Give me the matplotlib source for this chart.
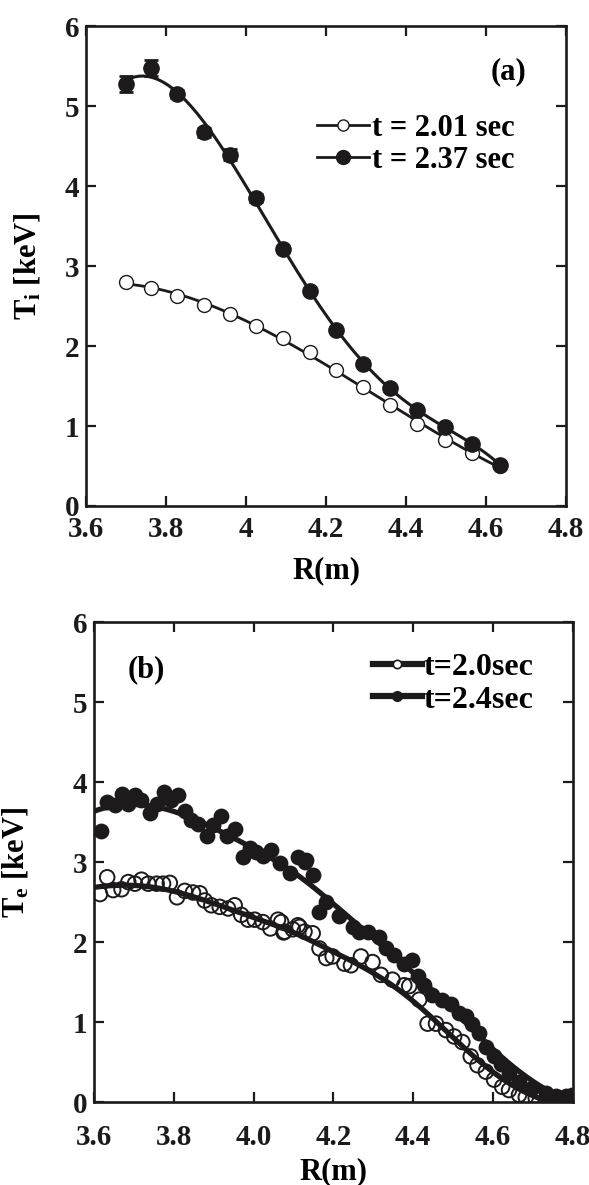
import numpy as np
import matplotlib
matplotlib.use('Agg')
import matplotlib.pyplot as plt

# ---- panel (a): ion temperature ----
r_a = [3.700, 3.763, 3.828, 3.894, 3.959, 4.025, 4.092, 4.160, 4.226,
       4.293, 4.360, 4.428, 4.497, 4.566, 4.635]
ti_201 = [2.80, 2.73, 2.63, 2.51, 2.40, 2.25, 2.10, 1.92, 1.70,
          1.49, 1.26, 1.03, 0.83, 0.66, 0.50]
ti_201_err = [0.04, 0.03, 0.03, 0.03, 0.03, 0.03, 0.03, 0.03, 0.03,
              0.03, 0.03, 0.03, 0.03, 0.03, 0.03]
ti_237 = [5.28, 5.47, 5.15, 4.67, 4.39, 3.85, 3.21, 2.69, 2.20,
          1.78, 1.47, 1.20, 0.99, 0.78, 0.51]
ti_237_err = [0.10, 0.10, 0.05, 0.06, 0.07, 0.05, 0.04, 0.03, 0.03,
              0.03, 0.03, 0.03, 0.03, 0.03, 0.03]

# ---- panel (b): electron temperature ----
r_b_20 = [3.615, 3.633, 3.648, 3.669, 3.686, 3.7025, 3.719, 3.736, 3.757, 3.773,
          3.790, 3.808, 3.8275, 3.848, 3.865, 3.8775, 3.894, 3.915, 3.936, 3.9525,
          3.969, 3.986, 4.0025, 4.023, 4.042, 4.061, 4.069, 4.075, 4.0775, 4.098,
          4.111, 4.115, 4.1275, 4.148, 4.165, 4.182, 4.198, 4.2275, 4.244, 4.269,
          4.298, 4.319, 4.348, 4.3775, 4.390, 4.415, 4.436, 4.457, 4.482, 4.5025,
          4.523, 4.544, 4.561, 4.582, 4.6025, 4.623, 4.640, 4.665, 4.682, 4.707,
          4.732, 4.750, 4.765]
te_20 = [2.60, 2.81, 2.65, 2.66, 2.75, 2.73, 2.78, 2.73, 2.73, 2.73,
         2.74, 2.56, 2.64, 2.62, 2.61, 2.52, 2.46, 2.44, 2.42, 2.46,
         2.34, 2.28, 2.28, 2.25, 2.17, 2.28, 2.25, 2.12, 2.13, 2.16,
         2.21, 2.19, 2.13, 2.11, 1.92, 1.80, 1.82, 1.73, 1.71, 1.82,
         1.75, 1.59, 1.53, 1.46, 1.45, 1.28, 0.98, 0.98, 0.90, 0.82,
         0.75, 0.57, 0.46, 0.38, 0.28, 0.19, 0.15, 0.09, 0.06, 0.05,
         0.03, 0.02, 0.02]
r_b_24 = [3.617, 3.633, 3.6525, 3.669, 3.686, 3.7025, 3.719, 3.740, 3.757, 3.776,
          3.794, 3.811, 3.8275, 3.844, 3.861, 3.882, 3.898, 3.917, 3.933, 3.9525,
          3.973, 3.990, 4.007, 4.023, 4.044, 4.065, 4.090, 4.111, 4.1275, 4.132,
          4.148, 4.165, 4.182, 4.215, 4.248, 4.265, 4.286, 4.315, 4.332, 4.3525,
          4.3775, 4.397, 4.411, 4.4275, 4.448, 4.473, 4.494, 4.515, 4.532, 4.548,
          4.565, 4.582, 4.6025, 4.619, 4.640, 4.665, 4.698, 4.732, 4.757, 4.782,
          4.798]
te_24 = [3.39, 3.75, 3.71, 3.85, 3.72, 3.84, 3.78, 3.61, 3.72, 3.88,
         3.78, 3.84, 3.64, 3.53, 3.48, 3.32, 3.46, 3.57, 3.32, 3.41,
         3.06, 3.18, 3.13, 3.07, 3.15, 2.99, 2.86, 3.06, 3.00, 3.03,
         2.84, 2.38, 2.50, 2.32, 2.19, 2.13, 2.13, 2.06, 1.92, 1.84,
         1.73, 1.78, 1.57, 1.46, 1.34, 1.28, 1.22, 1.11, 1.07, 0.98,
         0.86, 0.69, 0.57, 0.48, 0.36, 0.25, 0.17, 0.11, 0.07, 0.08,
         0.09]

ink = '#1c1a1b'
plt.rcParams['font.family'] = 'Liberation Serif'
plt.rcParams['font.weight'] = 'bold'
plt.rcParams['mathtext.fontset'] = 'custom'
plt.rcParams['mathtext.rm'] = 'Liberation Serif:bold'
plt.rcParams['mathtext.bf'] = 'Liberation Serif:bold'
plt.rcParams['mathtext.it'] = 'Liberation Serif:bold'


def smooth(x, y, grid, bw):
    # local linear regression with gaussian weights
    x = np.asarray(x)
    y = np.asarray(y)
    out = []
    for g in grid:
        w = np.exp(-0.5 * ((x - g) / bw) ** 2)
        c = np.polyfit(x - g, y, 1, w=np.sqrt(w))
        out.append(c[-1])
    return np.array(out)


def style(ax, xpad):
    for s in ax.spines.values():
        s.set_linewidth(1.9)
        s.set_color(ink)
    ax.tick_params(direction='in', length=7, width=1.6, top=True, right=True,
                   labelsize=21, colors=ink, pad=5)
    ax.tick_params(axis='x', pad=xpad)
    for lab in ax.get_xticklabels() + ax.get_yticklabels():
        lab.set_fontweight('bold')


fig = plt.figure(figsize=(5.89, 11.85), dpi=100)

# panel (a)
ax1 = fig.add_axes([0.146, 0.573, 0.815, 0.405])
xa = np.array(r_a)
xf = np.linspace(xa.min(), xa.max(), 200)
p_open = np.polynomial.Polynomial.fit(xa, ti_201, 3)
p_fill = np.polynomial.Polynomial.fit(xa, ti_237, 5)
ax1.plot(xf, p_open(xf), color=ink, lw=2.0, zorder=2)
ax1.plot(xf, p_fill(xf), color=ink, lw=2.2, zorder=2)
ax1.errorbar(r_a, ti_201, yerr=ti_201_err, fmt='o', ms=10, mfc='white', mec=ink,
             mew=1.0, ecolor=ink, capsize=4, elinewidth=1.5, zorder=3)
ax1.errorbar(r_a, ti_237, yerr=ti_237_err, fmt='o', ms=11, mfc=ink, mec=ink,
             ecolor=ink, capsize=5, elinewidth=2, capthick=2, zorder=4)
ax1.plot([], [], '-o', color=ink, lw=2, ms=8, mfc='white', mew=1, label='t = 2.01 sec')
ax1.plot([], [], '-o', color=ink, lw=2, ms=10, mfc=ink, label='t = 2.37 sec')
ax1.set_xlim(3.6, 4.8)
ax1.set_ylim(0, 6)
ax1.set_xticks([3.6, 3.8, 4.0, 4.2, 4.4, 4.6, 4.8])
ax1.set_xticklabels(['3.6', '3.8', '4', '4.2', '4.4', '4.6', '4.8'])
ax1.set_yticks(range(7))
ax1.set_xlabel('R(m)', fontsize=22, fontweight='bold', labelpad=10)
ax1.set_ylabel('T$_\\mathrm{i}$ [keV]', fontsize=22, fontweight='bold', labelpad=16)
ax1.text(0.88, 0.905, '(a)', transform=ax1.transAxes, ha='center', va='center',
         fontsize=22, fontweight='bold')
ax1.legend(loc='upper left', bbox_to_anchor=(0.455, 0.842), frameon=False,
           handlelength=1.7, handletextpad=0.1, labelspacing=0.1, borderaxespad=0,
           prop={'size': 22, 'weight': 'bold'})
style(ax1, 7)

# panel (b)
ax2 = fig.add_axes([0.1596, 0.070, 0.813, 0.405])
xg = np.linspace(3.6, 4.8, 300)
ax2.scatter(r_b_20, te_20, s=110, facecolors='none', edgecolors=ink, linewidths=1.4, zorder=3)
ax2.scatter(r_b_24, te_24, s=130, color=ink, lw=0, zorder=3)
ax2.plot(xg, smooth(r_b_20, te_20, xg, 0.09), color=ink, lw=3.8, zorder=4)
ax2.plot(xg, smooth(r_b_24, te_24, xg, 0.1), color=ink, lw=3.8, zorder=4)
ax2.plot([], [], '-o', color=ink, lw=4.5, ms=6, mfc='white', mew=1.2, label='t=2.0sec')
ax2.plot([], [], '-o', color=ink, lw=4.5, ms=7, mfc=ink, label='t=2.4sec')
ax2.set_xlim(3.6, 4.8)
ax2.set_ylim(0, 6)
ax2.set_xticks([3.6, 3.8, 4.0, 4.2, 4.4, 4.6, 4.8])
ax2.set_xticklabels(['3.6', '3.8', '4.0', '4.2', '4.4', '4.6', '4.8'])
ax2.set_yticks(range(7))
ax2.set_xlabel('R(m)', fontsize=22, fontweight='bold', labelpad=4)
ax2.set_ylabel('T$_\\mathrm{e}$ [keV]', fontsize=22, fontweight='bold', labelpad=30)
ax2.text(0.11, 0.9, '(b)', transform=ax2.transAxes, ha='center', va='center',
         fontsize=22, fontweight='bold')
ax2.legend(loc='upper left', bbox_to_anchor=(0.555, 0.963), frameon=False,
           handlelength=1.55, handletextpad=0.05, labelspacing=0.1, borderaxespad=0,
           prop={'size': 23, 'weight': 'bold'})
style(ax2, 16)

fig.savefig('out.png', dpi=100)
